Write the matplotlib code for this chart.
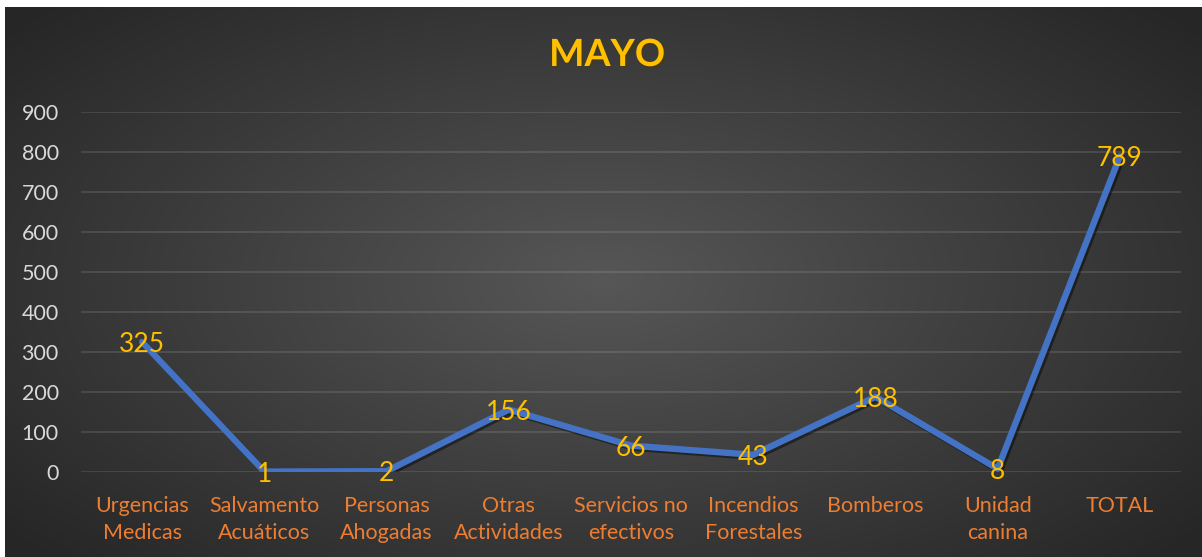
import numpy as np
import matplotlib.pyplot as plt
import matplotlib.patheffects as pe

# Data
categories = ['Urgencias\nMedicas', 'Salvamento\nAcuáticos', 'Personas\nAhogadas',
              'Otras\nActividades', 'Servicios no\nefectivos', 'Incendios\nForestales',
              'Bomberos', 'Unidad\ncanina', 'TOTAL']
values = [325, 1, 2, 156, 66, 43, 188, 8, 789]
title = 'MAYO'

plt.rcParams['font.family'] = ['Lato', 'DejaVu Sans']

W, H = 1202, 557
fig = plt.figure(figsize=(W / 100, H / 100), dpi=100)
fig.patch.set_facecolor('white')

# Background: dark radial gradient, white strip on top and left
bg = fig.add_axes([5 / W, 0, 1 - 5 / W, 1 - 7 / H])
yy, xx = np.mgrid[-1:1:300j, -1:1:600j]
r = np.sqrt(xx ** 2 + (yy * 0.9) ** 2)
t = np.clip(1 - r / 1.3, 0, 1)
lev = 0.15 + (0.34 - 0.15) * t
img = np.dstack([lev, lev, lev])
bg.imshow(img, aspect='auto', extent=[0, 1, 0, 1], interpolation='bilinear')
bg.set_axis_off()

ax = fig.add_axes([81 / W, 85 / H, 1100 / W, 360 / H])
ax.patch.set_alpha(0)

x = np.arange(len(categories))
ax.plot(x, values, color='#4472C4', lw=4.6, solid_capstyle='round', zorder=3,
        path_effects=[pe.SimpleLineShadow(offset=(1.5, -1.5), alpha=0.45, shadow_color='black'),
                      pe.Normal()])

for xi, v in zip(x, values):
    ax.text(xi, v, str(v), color='#FFC000', fontsize=19, ha='center',
            va='center_baseline', zorder=4)

ax.set_xlim(-0.5, len(categories) - 0.5)
ax.set_ylim(0, 900)
ax.set_yticks(np.arange(0, 901, 100))
ax.grid(axis='y', color='#ffffff', alpha=0.13, lw=1.2)
ax.set_axisbelow(True)
for s in ax.spines.values():
    s.set_visible(False)
ax.tick_params(length=0)
ax.tick_params(axis='y', colors='#D9D9D9', labelsize=15.5, pad=16)
ax.set_xticks(x)
ax.set_xticklabels(categories, color='#ED7D31', fontsize=15.5, linespacing=1.45)
ax.tick_params(axis='x', pad=17)

fig.text(607 / W, 1 - 55 / H, title, color='#FFC000', fontsize=27, fontweight='bold',
         ha='center', va='center',
         path_effects=[pe.withSimplePatchShadow(offset=(1.5, -1.5), alpha=0.5)])

fig.savefig('out.png', dpi=100)
